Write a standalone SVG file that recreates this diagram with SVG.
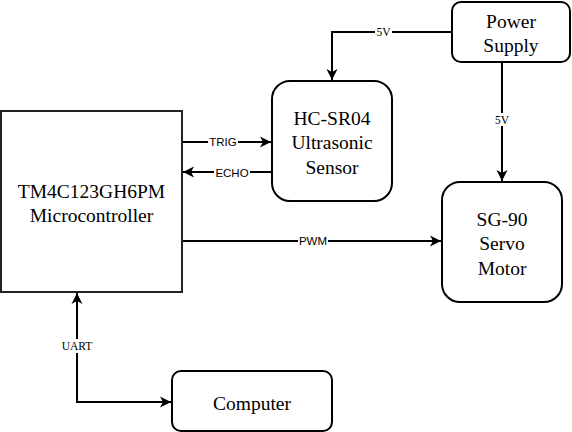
<svg xmlns="http://www.w3.org/2000/svg" width="572" height="432" viewBox="0 0 572 432">
<style>
.box{fill:#fff;stroke:#000;stroke-width:2}
.mcu{fill:#fff;stroke:#222;stroke-width:2}
.t{font-family:'Liberation Serif','Times New Roman',Tinos,Times,'DejaVu Serif',serif;font-size:19.5px;fill:#000;text-anchor:middle}
.c{fill:none;stroke:#000;stroke-width:2}
.ls{font-family:'Liberation Serif','Times New Roman',Tinos,Times,'DejaVu Serif',serif;font-size:11.5px;fill:#000;text-anchor:middle}
.la{font-family:'Liberation Sans',Arial,sans-serif;font-size:11.5px;fill:#000;text-anchor:middle}
.bg{fill:#fff}
</style>
<defs>
<marker id="ah" viewBox="0 0 12 12" refX="11" refY="6" markerWidth="12" markerHeight="12" markerUnits="userSpaceOnUse" orient="auto-start-reverse">
<path d="M0,0.5 L11,6 L0,11.5 L3,6 Z" fill="#000"/>
</marker>
</defs>
<rect width="572" height="432" fill="#fff"/>
<g id="connectors">
<path class="c" d="M452,32 H332 V80" marker-end="url(#ah)"/>
<rect class="bg" x="375" y="25" width="17" height="13"/>
<text class="ls" x="383.5" y="36">5V</text>
<path class="c" d="M502,62 V181" marker-end="url(#ah)"/>
<rect class="bg" x="494" y="113" width="17" height="13"/>
<text class="ls" x="502" y="124">5V</text>
<path class="c" d="M182,142 H271" marker-end="url(#ah)"/>
<rect class="bg" x="208" y="135" width="30" height="13"/>
<text class="la" x="223" y="146">TRIG</text>
<path class="c" d="M272,172 H183" marker-end="url(#ah)"/>
<rect class="bg" x="214" y="166" width="36" height="13"/>
<text class="la" x="232" y="177">ECHO</text>
<path class="c" d="M182,241 H441" marker-end="url(#ah)"/>
<rect class="bg" x="298" y="234" width="30" height="13"/>
<text class="la" x="313" y="245">PWM</text>
<path class="c" d="M77,293 V402 H171" marker-start="url(#ah)" marker-end="url(#ah)"/>
<rect class="bg" x="60" y="339" width="34" height="14"/>
<text class="ls" x="77" y="350">UART</text>
</g>
<g id="mcu">
<rect class="mcu" x="1" y="111" width="181" height="181"/>
<text class="t" x="91.5" y="197.5">TM4C123GH6PM</text>
<text class="t" x="91.5" y="221.5">Microcontroller</text>
</g>
<g id="hcsr04">
<rect class="box" x="272" y="81" width="120" height="120" rx="18"/>
<text class="t" x="332" y="124.5">HC-SR04</text>
<text class="t" x="332" y="149">Ultrasonic</text>
<text class="t" x="332" y="173.5">Sensor</text>
</g>
<g id="power">
<rect class="box" x="452" y="2" width="118" height="60" rx="9"/>
<text class="t" x="511" y="27.5">Power</text>
<text class="t" x="511" y="51.5">Supply</text>
</g>
<g id="servo">
<rect class="box" x="442" y="182" width="120" height="120" rx="18"/>
<text class="t" x="502" y="225.5">SG-90</text>
<text class="t" x="502" y="250">Servo</text>
<text class="t" x="502" y="274.5">Motor</text>
</g>
<g id="computer">
<rect class="box" x="172" y="371" width="160" height="60" rx="9"/>
<text class="t" x="252" y="409.5">Computer</text>
</g>
</svg>
